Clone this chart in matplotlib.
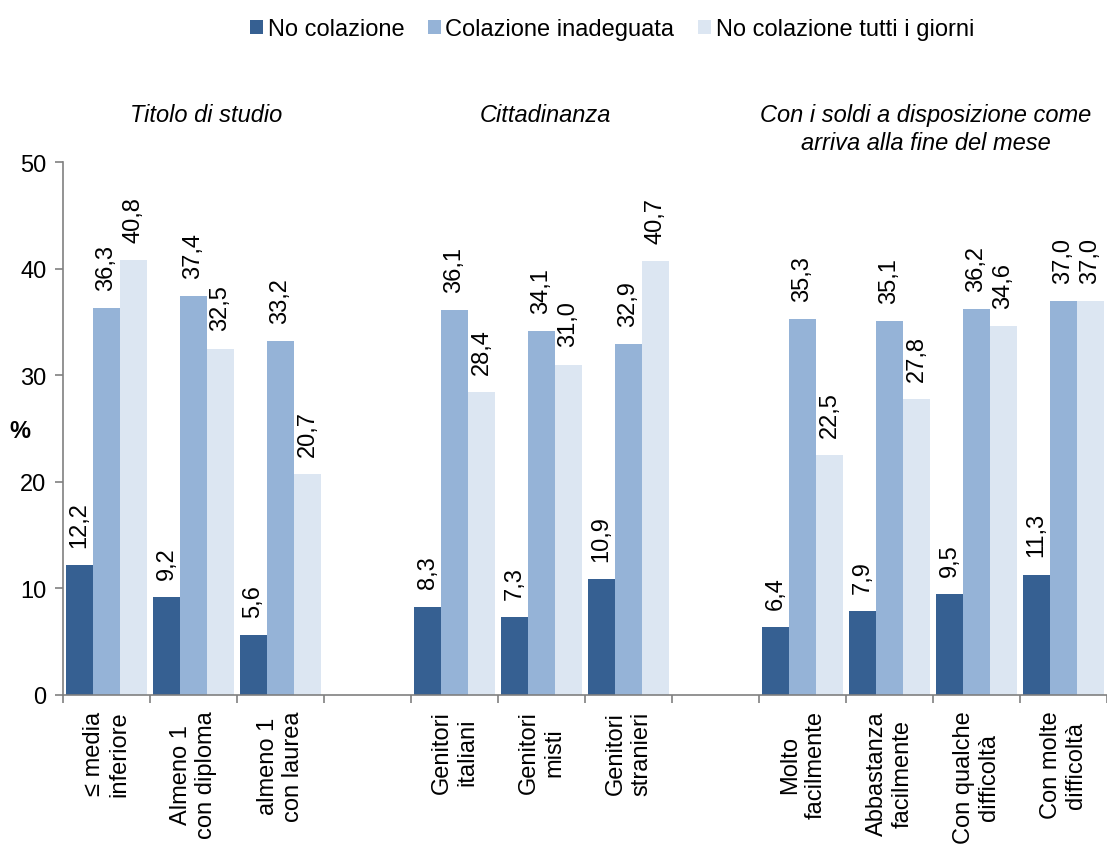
import matplotlib
matplotlib.use("Agg")
import matplotlib.pyplot as plt
from matplotlib.patches import Patch
from matplotlib.ticker import FixedLocator, NullFormatter

plt.rcParams['font.family'] = ['Liberation Sans', 'DejaVu Sans']

# ---- data ----
group_titles = ["Titolo di studio", "Cittadinanza",
                "Con i soldi a disposizione come\narriva alla fine del mese"]
categories = [
    ["≤ media\ninferiore", "Almeno 1\ncon diploma", "almeno 1\ncon laurea"],
    ["Genitori\nitaliani", "Genitori\nmisti", "Genitori\nstranieri"],
    ["Molto\nfacilmente", "Abbastanza\nfacilmente", "Con qualche\ndifficoltà", "Con molte\ndifficoltà"],
]
series_names = ["No colazione", "Colazione inadeguata", "No colazione tutti i giorni"]
no_colazione = [12.2, 9.2, 5.6, 8.3, 7.3, 10.9, 6.4, 7.9, 9.5, 11.3]
colazione_inadeguata = [36.3, 37.4, 33.2, 36.1, 34.1, 32.9, 35.3, 35.1, 36.2, 37.0]
no_colazione_tutti = [40.8, 32.5, 20.7, 28.4, 31.0, 40.7, 22.5, 27.8, 34.6, 37.0]

colors = ["#366092", "#95B3D7", "#DCE6F2"]

# ---- layout: slots with one empty slot between groups ----
positions = []
labels = []
slot = 0
for gi, cats in enumerate(categories):
    for c in cats:
        positions.append(slot + 0.5)
        labels.append(c)
        slot += 1
    if gi < len(categories) - 1:
        slot += 1
n_slots = slot

fig = plt.figure(figsize=(11.07, 8.54), dpi=100)
ax = fig.add_axes([63 / 1107, 158 / 854, 1 - 63 / 1107, (696 - 163) / 854])

bw = 0.31
series = [no_colazione, colazione_inadeguata, no_colazione_tutti]
for si, vals in enumerate(series):
    xs = [p + (si - 1) * bw for p in positions]
    ax.bar(xs, vals, width=bw, color=colors[si], edgecolor='none', label=series_names[si])
    for x, v in zip(xs, vals):
        ax.annotate(f"{v:.1f}".replace(".", ","), xy=(x, v), xytext=(0, 13),
                    textcoords="offset points", rotation=90, ha="center", va="bottom",
                    fontsize=17, color="black")

ax.set_xlim(0, n_slots)
ax.set_ylim(0, 50)
ax.set_yticks([0, 10, 20, 30, 40, 50])
ax.tick_params(axis='y', labelsize=17, length=6, width=1.2, color="#808080", pad=6)

ax.set_xticks(positions)
ax.set_xticklabels(labels, rotation=90, ha='center', va='top', fontsize=17,
                   multialignment='center', linespacing=1.22)
ax.tick_params(axis='x', which='major', length=0, pad=11)
ax.xaxis.set_minor_locator(FixedLocator(list(range(n_slots + 1))))
ax.xaxis.set_minor_formatter(NullFormatter())
ax.tick_params(axis='x', which='minor', length=6, width=1.2, color="#808080")

for s in ['top', 'right']:
    ax.spines[s].set_visible(False)
for s in ['left', 'bottom']:
    ax.spines[s].set_color("#808080")
    ax.spines[s].set_linewidth(1.2)

# group titles
title_x = [1.64, 5.54, 9.92]
for tx, t in zip(title_x, group_titles):
    ax.text(tx, 55.5, t, ha='center', va='top', style='italic', fontsize=17,
            multialignment='center', linespacing=1.28, clip_on=False)

fig.text(20 / 1107, 1 - 432 / 854, "%", fontsize=17, fontweight='bold',
         ha='center', va='center')

handles = [Patch(facecolor=c, edgecolor='none') for c in colors]
fig.legend(handles, series_names, loc='center', bbox_to_anchor=(612 / 1107, 1 - 30 / 854),
           ncol=3, frameon=False, fontsize=17, handlelength=0.55, handleheight=0.55,
           handletextpad=0.2, columnspacing=1.0, borderaxespad=0)

fig.savefig("out.png", dpi=100)
